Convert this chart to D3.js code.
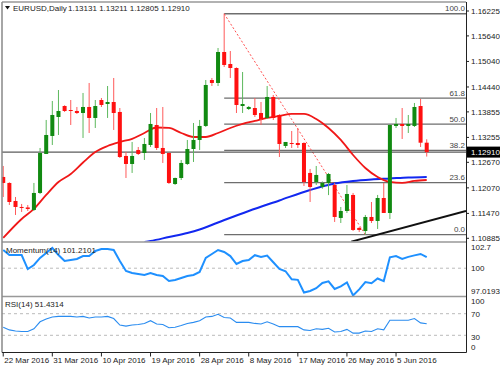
<!DOCTYPE html>
<html lang="en">
<head>
  <meta charset="UTF-8">
  <title>EURUSD Daily</title>
  <script src="https://d3js.org/d3.v7.min.js"></script>
  <style>
    html, body { margin:0; padding:0; background:#fff; }
    svg { display:block; }
    text { font-family:"Liberation Sans", Arial, sans-serif; font-size:8px; fill:#222; }
    .grid { stroke:#999; stroke-width:1.5; }
    .fib { stroke:#6e6e6e; stroke-width:1.3; }
  </style>
</head>
<body>
  <svg id="chart" width="500" height="369"></svg>
  <script>
    // --- data ---
    const opens  = [1.12326,1.12185,1.11762,1.11621,1.11610,1.11551,1.11950,1.12866,1.13289,1.13735,
                    1.13993,1.13899,1.13876,1.13829,1.13970,1.13712,1.14134,1.14040,1.14087,1.13853,
                    1.12819,1.12631,1.12960,1.12889,1.13077,1.13547,1.13007,1.12889,1.12161,1.12302,
                    1.12631,1.12983,1.13195,1.13524,1.14604,1.14534,1.15262,1.14980,1.14886,1.13993,
                    1.13923,1.13946,1.13829,1.13712,1.14205,1.13782,1.13054,1.13124,1.13124,1.13124,
                    1.12420,1.12208,1.12091,1.12185,1.12138,1.11363,1.11527,1.11903,1.11128,1.11057,
                    1.11386,1.11292,1.11832,1.11480,1.13524,1.13571,1.13524,1.13524,1.13993,1.13131];
    const highs  = [1.12584,1.12200,1.11856,1.11692,1.11668,1.12185,1.13007,1.13665,1.14111,1.14369,
                    1.14010,1.14134,1.13970,1.14299,1.14534,1.14134,1.14181,1.14463,1.14651,1.13946,
                    1.12913,1.13148,1.13030,1.13242,1.13829,1.13946,1.13970,1.12900,1.12310,1.12725,
                    1.13195,1.13594,1.13665,1.14604,1.14651,1.15356,1.16160,1.15285,1.14900,1.14792,
                    1.13993,1.14181,1.14087,1.14463,1.14252,1.13800,1.13148,1.13406,1.13477,1.13140,
                    1.12514,1.12584,1.12220,1.12420,1.12185,1.11621,1.12138,1.11950,1.11150,1.11433,
                    1.11738,1.11903,1.12185,1.13560,1.13712,1.13946,1.13782,1.14064,1.14158,1.13211];
    const lows   = [1.11856,1.11668,1.11433,1.11504,1.11527,1.11527,1.11926,1.12866,1.13077,1.13312,
                    1.13853,1.13547,1.13806,1.13242,1.13359,1.13477,1.13970,1.13712,1.13430,1.12772,
                    1.12302,1.12420,1.12842,1.12725,1.13030,1.12960,1.12655,1.12161,1.12138,1.12255,
                    1.12608,1.12678,1.12960,1.13500,1.14463,1.14463,1.14910,1.14651,1.13829,1.13829,
                    1.13899,1.13735,1.13547,1.13688,1.13665,1.12795,1.13007,1.13007,1.13007,1.12114,
                    1.11738,1.12138,1.12050,1.11900,1.11269,1.11245,1.11480,1.11057,1.11034,1.10970,
                    1.11245,1.11104,1.11480,1.11339,1.13477,1.13218,1.13359,1.13500,1.13030,1.12805];
    const closes = [1.12185,1.11738,1.11621,1.11598,1.11574,1.11950,1.12889,1.13312,1.13782,1.13876,
                    1.13876,1.13876,1.13829,1.13970,1.13712,1.13993,1.14017,1.14087,1.13829,1.12795,
                    1.12631,1.12819,1.12866,1.13101,1.13571,1.13007,1.12866,1.12185,1.12302,1.12655,
                    1.12983,1.13195,1.13524,1.14487,1.14534,1.15262,1.14957,1.14886,1.14017,1.14040,
                    1.13970,1.13782,1.13688,1.14205,1.13712,1.13101,1.13148,1.13101,1.13077,1.12208,
                    1.12091,1.12373,1.12185,1.12396,1.11386,1.11527,1.11926,1.11081,1.11081,1.11386,
                    1.11292,1.11832,1.11480,1.13547,1.13571,1.13524,1.13571,1.13970,1.13131,1.12910];

    // red moving average (candle index, price)
    const maRedIdx = [0,3,5,7,9,11,13,15,17,19,21,23,25,27,29,31,33,35,37,39,41,43,45,47,49,51,53,55,57,59,61,63,65,67,69];
    const maRedVal = [1.10893,1.11339,1.11574,1.11903,1.12208,1.12396,1.12666,1.12913,1.13054,1.13148,1.13223,1.13359,
                      1.13488,1.13477,1.13359,1.13265,1.13265,1.13359,1.13477,1.13571,1.13641,1.13712,1.13759,1.13806,
                      1.13806,1.13688,1.13477,1.13195,1.12842,1.12537,1.12326,1.12208,1.12185,1.12232,1.12255];
    // blue moving average
    const maBlueIdx = [23,24,27,30,32,35,40,45,50,54,57,60,63,66,69];
    const maBlueVal = [1.10800,1.10822,1.10916,1.11010,1.11092,1.11257,1.11527,1.11774,1.12020,1.12173,1.12232,
                       1.12267,1.12290,1.12314,1.12326];
    // black rising trend line
    const trendIdx = [56.7, 75.4];
    const trendVal = [1.10806, 1.11527];

    const momentum = [101.99,101.44,101.44,101.44,99.91,100.35,101.12,101.66,102.21,101.44,
                      100.79,100.90,101.01,101.33,101.33,101.88,102.10,102.10,101.99,100.79,
                      99.70,99.48,99.37,99.26,99.48,99.26,99.15,98.60,98.71,98.93,
                      99.15,99.26,99.59,101.12,101.55,101.99,101.77,101.33,100.46,100.79,
                      100.90,101.42,101.23,101.38,100.65,99.92,99.67,98.79,98.73,97.35,
                      97.51,97.81,98.39,98.56,97.73,98.02,98.45,97.02,97.69,98.48,
                      98.36,98.88,98.59,101.19,101.32,101.02,101.24,101.40,101.56,101.2101];
    const rsi = [45,40,38,37,37,42,55,60,64,65,
                 65,65,64,65,62,64,64,65,61,49,
                 47,49,50,52,57,51,50,44,45,48,
                 52,54,57,64,65,69,63,62,54,54,
                 54,52,51,55,51,46,46,46,46,40,
                 39,42,41,43,36,37,41,34,34,38,
                 37,42,40,58,58,58,58,61,53,51.4314];

    const priceTicks = [1.16225,1.15640,1.15040,1.14440,1.13855,1.13255,1.12670,1.12070,1.11470,1.10885];
    const dateLabels = ["22 Mar 2016","31 Mar 2016","10 Apr 2016","19 Apr 2016","28 Apr 2016",
                        "8 May 2016","17 May 2016","26 May 2016","5 Jun 2016"];
    const dateIdx = [0,8,16,24,32,40,48,56,64];
    const fibPct = [100.0, 61.8, 50.0, 38.2, 23.6, 0.0];
    const fibFrom = 36, fibTo = 59;

    // --- layout ---
    const L = 2, R = 466;
    const main = {top:2, bot:241.5}, mom = {top:242.5, bot:296}, rs = {top:297, bot:352.5};

    const svg = d3.select("#chart");
    const x = d3.scaleLinear().domain([-0.2, 75.4]).range([L, R]);
    const y = d3.scaleLinear().domain([1.10885, 1.16225]).range([238.3, 11]);
    const yM = d3.scaleLinear().domain([97.0193, 102.7]).range([295.5, 243.5]);
    const yR = d3.scaleLinear().domain([0, 100]).range([351.5, 297.5]);

    const defs = svg.append("defs");
    [["cMain",main],["cMom",mom],["cRsi",rs]].forEach(([id,p]) => {
      defs.append("clipPath").attr("id",id).append("rect")
        .attr("x",L).attr("y",p.top).attr("width",R-L).attr("height",p.bot-p.top);
    });

    const g = svg.append("g").attr("clip-path","url(#cMain)");

    // fibonacci levels
    const fibHigh = highs[fibFrom], fibLow = lows[fibTo];
    fibPct.forEach(p => {
      const v = fibLow + (fibHigh-fibLow)*p/100;
      g.append("line").attr("class","fib")
        .attr("x1",x(fibFrom)).attr("x2",R).attr("y1",y(v)).attr("y2",y(v));
      g.append("text").attr("x",R-1).attr("y",y(v)-2.5).attr("text-anchor","end")
        .style("fill","#444").text(p.toFixed(1));
    });
    g.append("line")
      .attr("x1",x(fibFrom)).attr("y1",y(fibHigh)).attr("x2",x(fibTo)).attr("y2",y(fibLow))
      .attr("stroke","#ff5050").attr("stroke-width",1).attr("stroke-dasharray","2,2");

    // current price line
    const last = closes[closes.length-1];
    g.append("line").attr("x1",L).attr("x2",R).attr("y1",y(last)).attr("y2",y(last))
      .attr("stroke","#333").attr("stroke-width",1);

    // moving averages and trend line
    const ma = (idx, val, col, w) => g.append("path")
      .datum(idx.map((d,k) => [d, val[k]]))
      .attr("fill","none").attr("stroke",col).attr("stroke-width",w)
      .attr("d", d3.line().x(d=>x(d[0])).y(d=>y(d[1])).curve(d3.curveMonotoneX));
    ma(maBlueIdx, maBlueVal, "#1228f0", 2);
    ma(maRedIdx, maRedVal, "#f01818", 1.8);
    ma(trendIdx, trendVal, "#111", 2);

    // candles
    const cd = closes.map((c,i) => ({i, o:opens[i], h:highs[i], l:lows[i], c}));
    const cg = g.selectAll(".candle").data(cd).join("g").attr("class","candle");
    cg.append("line")
      .attr("x1",d=>x(d.i)).attr("x2",d=>x(d.i))
      .attr("y1",d=>y(d.h)).attr("y2",d=>y(d.l))
      .attr("stroke",d=>d.c>=d.o ? "#5cb85c" : "#ff5a5a").attr("stroke-width",1);
    cg.append("rect")
      .attr("x",d=>x(d.i)-2).attr("width",4)
      .attr("y",d=>y(Math.max(d.o,d.c)))
      .attr("height",d=>Math.max(1, Math.abs(y(d.o)-y(d.c))))
      .attr("fill",d=>d.c>=d.o ? "#118a11" : "#ff1010");

    // momentum panel
    const gm = svg.append("g").attr("clip-path","url(#cMom)");
    gm.append("line").attr("x1",L).attr("x2",R).attr("y1",yM(100)).attr("y2",yM(100))
      .attr("stroke","#bbb").attr("stroke-dasharray","3,3");
    gm.append("path").datum(momentum)
      .attr("fill","none").attr("stroke","#1e90ff").attr("stroke-width",2)
      .attr("d", d3.line().x((d,i)=>x(i)).y(d=>yM(d)));

    // rsi panel
    const gr = svg.append("g").attr("clip-path","url(#cRsi)");
    [70,30].forEach(v => gr.append("line").attr("x1",L).attr("x2",R).attr("y1",yR(v)).attr("y2",yR(v))
      .attr("stroke","#bbb").attr("stroke-dasharray","3,3"));
    gr.append("path").datum(rsi)
      .attr("fill","none").attr("stroke","#2a8cf0").attr("stroke-width",1.1)
      .attr("d", d3.line().x((d,i)=>x(i)).y(d=>yR(d)));

    // frames
    [main.top, 242, 296.5].forEach(v => svg.append("line").attr("class","grid")
      .attr("x1",L).attr("x2",R).attr("y1",v).attr("y2",v));
    svg.append("line").attr("x1",L).attr("x2",L).attr("y1",main.top).attr("y2",rs.bot)
      .attr("stroke","#888").attr("stroke-width",1.5);
    svg.append("line").attr("x1",R+0.5).attr("x2",R+0.5).attr("y1",main.top).attr("y2",rs.bot)
      .attr("stroke","#222").attr("stroke-width",1);
    svg.append("line").attr("x1",L).attr("x2",R+0.5).attr("y1",rs.bot).attr("y2",rs.bot)
      .attr("stroke","#222").attr("stroke-width",1);

    // price axis
    priceTicks.forEach(v => {
      svg.append("line").attr("x1",R).attr("x2",R+3).attr("y1",y(v)).attr("y2",y(v)).attr("stroke","#222");
      svg.append("text").attr("x",R+5).attr("y",y(v)).attr("dy","0.35em").text(v.toFixed(5));
    });
    svg.append("rect").attr("x",R+1).attr("y",y(last)-5.5).attr("width",33).attr("height",11).attr("fill","#000");
    svg.append("text").attr("x",R+5).attr("y",y(last)).attr("dy","0.35em").style("fill","#fff").text(last.toFixed(5));

    // momentum / rsi scale labels
    svg.append("text").attr("x",R+5).attr("y",yM(102.7)+6).text("102.7");
    svg.append("text").attr("x",R+5).attr("y",yM(100)).attr("dy","0.35em").text("100");
    svg.append("text").attr("x",R+5).attr("y",yM(97.0193)-1.5).text("97.0193");
    svg.append("text").attr("x",R+5).attr("y",yR(100)+6.5).text("100");
    svg.append("text").attr("x",R+5).attr("y",yR(70)).attr("dy","0.45em").text("70");
    svg.append("text").attr("x",R+5).attr("y",yR(30)).attr("dy","0.55em").text("30");
    svg.append("text").attr("x",R+5).attr("y",yR(0)-1.5).text("0");

    // date axis
    dateIdx.forEach((d,k) => {
      svg.append("line").attr("x1",x(d)).attr("x2",x(d)).attr("y1",rs.bot).attr("y2",rs.bot+4).attr("stroke","#222");
      svg.append("text").attr("x",x(d)+1).attr("y",363).text(dateLabels[k]);
    });

    // titles
    svg.append("path").attr("d","M5,6 L10,6 L7.5,9.5 Z").attr("fill","#111");
    svg.append("text").attr("x",13).attr("y",10.5).text("EURUSD,Daily");
    svg.append("text").attr("x",68).attr("y",10.5).text(
      [opens[69],highs[69],lows[69],closes[69]].map(v=>v.toFixed(5)).join(" "));
    svg.append("text").attr("x",6).attr("y",253).text("Momentum(14) " + momentum[momentum.length-1].toFixed(4));
    svg.append("text").attr("x",5).attr("y",307).text("RSI(14) " + rsi[rsi.length-1].toFixed(4));
  </script>
</body>
</html>
